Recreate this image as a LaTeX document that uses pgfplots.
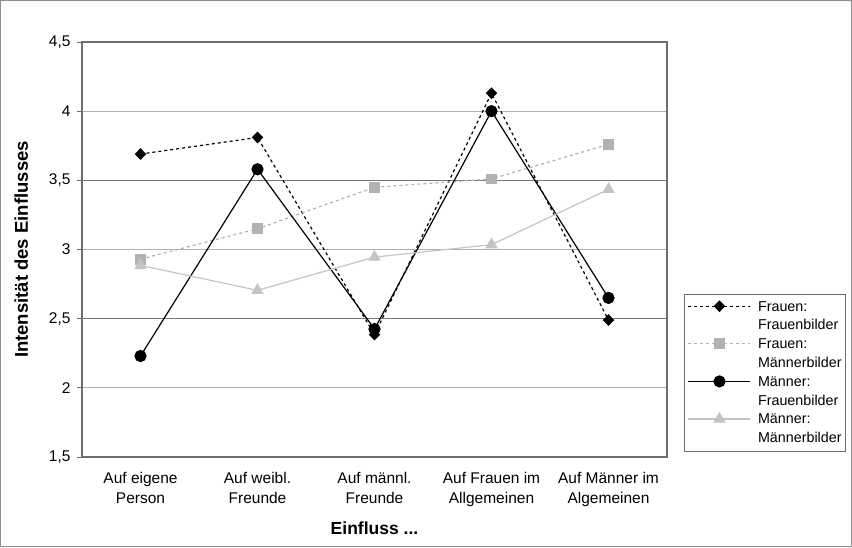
\documentclass[border=0pt]{standalone}
\usepackage{pgfplots}
\pgfplotsset{compat=1.18}
\usepackage{fontspec}
\setmainfont{Liberation Sans}
\definecolor{sqgray}{RGB}{178,178,178}
\definecolor{trgray}{RGB}{196,196,196}
\definecolor{framegray}{RGB}{110,110,110}
\definecolor{gridgray}{RGB}{175,175,175}
\definecolor{griddark}{RGB}{120,120,120}
\begin{document}
\begin{tikzpicture}[x=1pt,y=1pt]
\useasboundingbox (0,0) rectangle (852,547);
\draw[black!45, line width=1pt] (0.5,0.5) rectangle (851.5,546.5);
\begin{axis}[
  at={(82pt,90pt)}, anchor=south west,
  width=585pt, height=415pt, scale only axis,
  xmin=-0.5, xmax=4.5, ymin=1.5, ymax=4.5,
  ytick={1.5,2,2.5,3,3.5,4,4.5},
  yticklabels={{1,5},2,{2,5},3,{3,5},4,{4,5}},
  xtick={0,1,2,3,4},
  xticklabels={{Auf eigene\\Person},{Auf weibl.\\Freunde},{Auf männl.\\Freunde},{Auf Frauen im\\Allgemeinen},{Auf Männer im\\Algemeinen}},
  xticklabel style={align=center, font=\fontsize{15.5}{20}\selectfont, yshift=-7pt},
  yticklabel style={font=\fontsize{15.5}{18}\selectfont, xshift=-3pt},
  major x tick style={draw=none},
  extra x ticks={-0.5,0.5,1.5,2.5,3.5,4.5},
  extra x tick labels={},
  extra x tick style={major tick length=5pt, tick style={draw=framegray, line width=0.8pt}},
  extra y ticks={2.5,3.5},
  extra y tick labels={},
  extra y tick style={grid=major, major grid style={draw=griddark, line width=0.9pt}},
  tick align=outside,
  xtick pos=bottom, ytick pos=left,
  major tick length=5pt,
  ymajorgrids, grid style={draw=gridgray, line width=0.8pt},
  y tick style={draw=framegray, line width=0.8pt},
  axis line style={draw=framegray, line width=1.4pt},
  xlabel={\bfseries Einfluss ...},
  ylabel={\bfseries Intensität des Einflusses},
  xlabel style={font=\fontsize{17.5}{20}\selectfont, at={(axis description cs:0.5,-0.172)}, anchor=center},
  ylabel style={font=\fontsize{18.5}{20}\selectfont, at={(axis description cs:-0.104,0.5)}, anchor=center},
  legend cell align=left,
  legend style={at={(1.029,0.393)}, anchor=north west, draw=framegray, line width=1pt,
    font=\fontsize{14.3}{16}\selectfont, cells={anchor=west},
    nodes={inner sep=1pt, text height=12.3pt, text depth=4.5pt},
    row sep=0pt, inner sep=3.4pt,
    /tikz/every odd column/.append style={column sep=6pt}},
  legend image code/.code={\draw[mark repeat=2,mark phase=2,#1] plot coordinates {(0pt,1pt) (31pt,1pt) (62pt,1pt)};},
]
\addplot[black, line width=1.2pt, dash pattern=on 3pt off 3pt, mark=diamond*, mark size=5pt, mark options={solid, fill=black, xscale=1.3}]
  coordinates {(0,3.69) (1,3.81) (2,2.385) (3,4.13) (4,2.49)};
\addlegendentry{Frauen:}
\addlegendimage{empty legend}
\addlegendentry{Frauenbilder}
\addplot[sqgray, line width=1.2pt, dash pattern=on 3pt off 3pt, mark=square*, mark size=4.8pt, mark options={solid, fill=sqgray}]
  coordinates {(0,2.93) (1,3.15) (2,3.45) (3,3.51) (4,3.76)};
\addlegendentry{Frauen:}
\addlegendimage{empty legend}
\addlegendentry{Männerbilder}
\addplot[black, line width=1.2pt, mark=*, mark size=5.5pt, mark options={fill=black}]
  coordinates {(0,2.23) (1,3.58) (2,2.425) (3,4.0) (4,2.65)};
\addlegendentry{Männer:}
\addlegendimage{empty legend}
\addlegendentry{Frauenbilder}
\addplot[trgray, line width=1.2pt, mark=triangle*, mark size=6pt, mark options={fill=trgray}]
  coordinates {(0,2.885) (1,2.705) (2,2.945) (3,3.035) (4,3.435)};
\addlegendentry{Männer:}
\addlegendimage{empty legend}
\addlegendentry{Männerbilder}
\end{axis}
\end{tikzpicture}
\end{document}
